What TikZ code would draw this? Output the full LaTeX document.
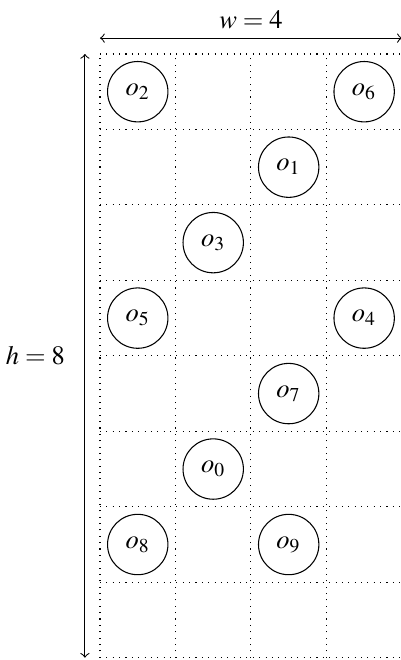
\documentclass[tikz,border=0pt]{standalone}
\usepackage{mathptmx}
\begin{document}
\begin{tikzpicture}[x=1cm, y=1cm, obj/.style={draw, circle, minimum size=0.8cm, inner sep=0pt}]
				\useasboundingbox (-1.325,-0.03) rectangle (3.975,8.715);
				% 网格
				\draw[dotted] (0,0) grid (4,8);
				
				% 宽度 w
				\coordinate (wl) at (0,8.21);
				\coordinate (wr) at (4,8.21);
				\draw[<->] (wl) -- (wr) node[midway, above] {$w = 4$};
				
				% 高度 h
				\coordinate (ht) at (-0.2,8);
				\coordinate (hb) at (-0.2,0);
				\draw[<->] (ht) -- (hb) node[midway, left, xshift=-4pt] {$h = 8$};
				
				% 物体 o_i
				\foreach \n/\c/\r in {2/0/0, 6/3/0, 1/2/1, 3/1/2, 5/0/3, 4/3/3, 7/2/4, 0/1/5, 8/0/6, 9/2/6}
					\node[obj] (o\n) at (\c+0.5, 7.5-\r) {$o_{\n}$};
			\end{tikzpicture}
\end{document}
